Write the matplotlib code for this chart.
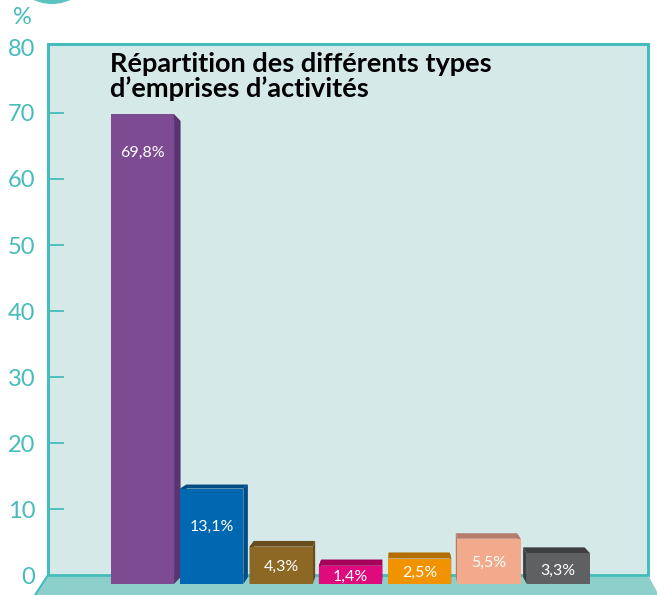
import matplotlib
matplotlib.use("Agg")
import matplotlib.pyplot as plt
from matplotlib.patches import Polygon, Rectangle, Ellipse

plt.rcParams['font.family'] = ['Lato', 'DejaVu Sans']

# data
values = [69.8, 13.1, 4.3, 1.4, 2.5, 5.5, 3.3]
labels = ['69,8%', '13,1%', '4,3%', '1,4%', '2,5%', '5,5%', '3,3%']
front_colors = ['#7c4b91', '#0068b1', '#8d6824', '#df0a7c', '#f19300', '#f3a98b', '#5f6062']
dark_colors = ['#5a3370', '#004c85', '#6a4d1c', '#a4005a', '#b36d00', '#b57c6b', '#3e3f41']
yticks = [0, 10, 20, 30, 40, 50, 60, 70, 80]
title = "Répartition des différents types\nd’emprises d’activités"

TEAL = '#45bcbb'
PANEL = '#d5eae8'
FLOOR = '#8dcfcb'

W, H = 657, 595
fig = plt.figure(figsize=(W / 100, H / 100), dpi=100)

# axes placed so that 0 sits on the floor line and 80 on the top border
px_per_unit = 6.6
y_bottom = -20 / px_per_unit
y_top = 531 / px_per_unit
ax = fig.add_axes([48 / W, 0, 600 / W, 551 / H])
x_left, x_right = -1.364, 7.294
ax.set_xlim(x_left, x_right)
ax.set_ylim(y_bottom, y_top)
ax.patch.set_visible(False)

# panel
ax.add_patch(Rectangle((x_left, 0), x_right - x_left, y_top, facecolor=PANEL,
                       edgecolor='none', zorder=0))
ax.plot([x_left, x_left, x_right, x_right], [0, y_top, y_top, 0], color=TEAL,
        lw=2.2, zorder=1, clip_on=False, solid_joinstyle='miter')

# floor
ax.add_patch(Polygon([(x_left, 0), (x_right, 0), (7.45, y_bottom), (-1.55, y_bottom)],
                     closed=True, facecolor=FLOOR, edgecolor='none', zorder=1, clip_on=False))
ax.plot([x_left, x_right], [0, 0], color=TEAL, lw=2, zorder=1.5)
ax.plot([x_left, -1.55], [0, y_bottom], color=TEAL, lw=1.5, zorder=1.5, clip_on=False)

# ticks
for t in yticks[1:-1]:
    ax.plot([x_left, x_left + 0.22], [t, t], color=TEAL, lw=1.3, zorder=1.5)
for sp in ax.spines.values():
    sp.set_visible(False)
ax.set_xticks([])
ax.set_yticks(yticks)
ax.set_yticklabels([str(t) for t in yticks])
ax.tick_params(axis='y', length=0, pad=9, labelcolor=TEAL, labelsize=17)

# 3d-looking bars (perspective toward a vanishing point)
vx, vy, f = 3.7, 34.0, 0.029
base = -1.36
width = 0.91


def back(x, y):
    return (x + f * (vx - x), y + f * (vy - y))


for i, (v, lab) in enumerate(zip(values, labels)):
    x0, x1 = i - width / 2, i + width / 2
    dark = dark_colors[i]
    faces = [
        [(x0, base), (x0, v), back(x0, v), back(x0, base)],
        [(x1, base), (x1, v), back(x1, v), back(x1, base)],
        [(x0, v), (x1, v), back(x1, v), back(x0, v)],
    ]
    for face in faces:
        ax.add_patch(Polygon(face, closed=True, facecolor=dark, edgecolor='none', zorder=2))
    ax.add_patch(Polygon([(x0, base), (x1, base), (x1, v), (x0, v)], closed=True,
                         facecolor=front_colors[i], edgecolor='none', zorder=3))
    ly = max(v - 5.5, (v + base) / 2) - 0.3
    ax.text(i, ly, lab, color='white', fontsize=11.5, ha='center', va='center', zorder=4)

ax.text(-0.47, 79.2, title, fontsize=19.5, fontweight='bold', color='black',
        ha='left', va='top', linespacing=1.0, zorder=4)

# decorations at the top left
fig.text(22 / W, 1 - 17 / H, '%', color=TEAL, fontsize=17,
         ha='center', va='center')
fig.patches.append(Ellipse((52 / W, 1 + 25 / H), 72 / W, 58 / H, transform=fig.transFigure,
                           facecolor='#5cc4c0', edgecolor='none'))

fig.savefig('out.png', dpi=100)
